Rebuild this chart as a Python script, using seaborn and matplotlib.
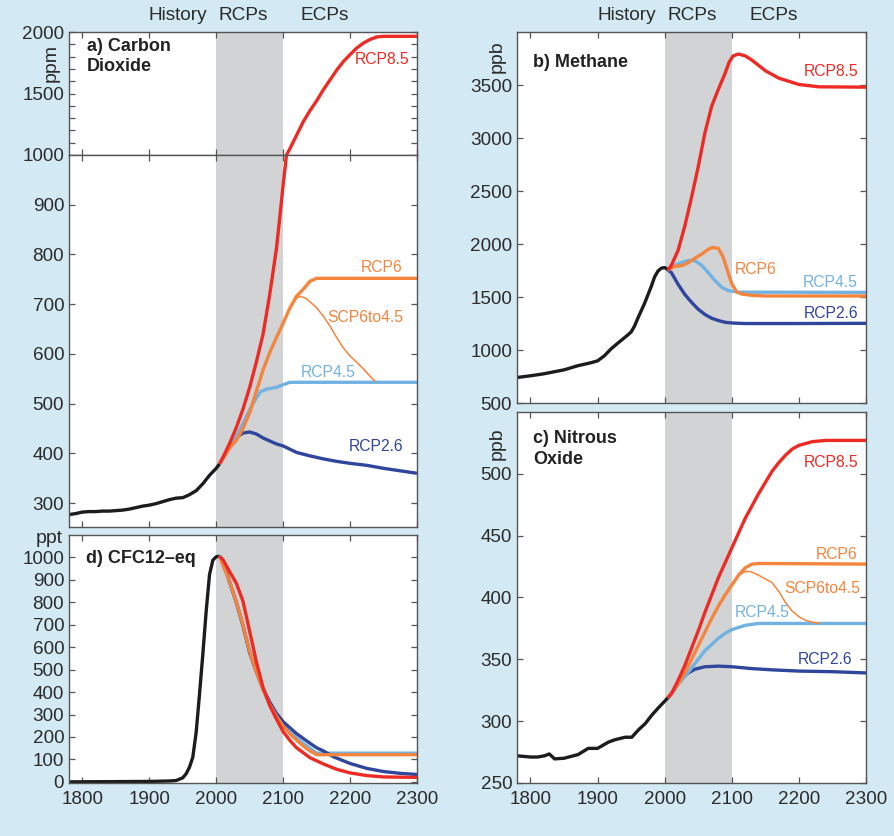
import numpy as np
import pandas as pd
import matplotlib
matplotlib.use("Agg")
import matplotlib.pyplot as plt
import seaborn as sns
from matplotlib.ticker import MultipleLocator

# ---------------- data ----------------
era_labels = ["History", "RCPs", "ECPs"]
era_years = [1943, 2041, 2162]

# Carbon dioxide, ppm
co2_hist_yr = [1780, 1790, 1800, 1810, 1820, 1830, 1840, 1850, 1860, 1870, 1880, 1890,
               1900, 1910, 1920, 1930, 1940, 1950, 1960, 1970, 1980, 1990, 2000, 2005]
co2_hist = [277, 279, 282, 283, 283, 284, 284, 285, 286, 288, 291, 294,
            296, 299, 303, 307, 310, 311, 317, 325, 339, 356, 370, 379]
co2_rcp85_yr = [2005, 2010, 2020, 2030, 2040, 2050, 2060, 2070, 2080, 2090, 2095, 2100, 2105,
                2110, 2120, 2130, 2140, 2150, 2160, 2170, 2180, 2190, 2200, 2210, 2220,
                2230, 2240, 2250, 2300]
co2_rcp85 = [379, 392, 420, 452, 489, 533, 584, 640, 720, 812, 875, 940, 1000,
             1050, 1160, 1270, 1360, 1440, 1530, 1610, 1690, 1760, 1816, 1870, 1910,
             1940, 1960, 1965, 1965]
co2_rcp6_yr = [2005, 2020, 2030, 2040, 2050, 2060, 2070, 2080, 2090, 2100, 2110, 2120,
               2130, 2140, 2150, 2300]
co2_rcp6 = [379, 411, 426, 450, 482, 525, 568, 603, 633, 662, 692, 716, 730, 746, 752, 752]
co2_scp_yr = [2100, 2110, 2120, 2126, 2135, 2150, 2160, 2170, 2180, 2190, 2200, 2210,
              2220, 2230, 2238]
co2_scp = [662, 692, 712, 716, 711, 693, 676, 656, 633, 612, 596, 583, 570, 555, 544]
co2_rcp45_yr = [2005, 2020, 2030, 2040, 2050, 2060, 2066, 2075, 2090, 2100, 2110, 2300]
co2_rcp45 = [379, 412, 434, 460, 488, 512, 524, 529, 533, 538, 543, 543]
co2_rcp26_yr = [2005, 2020, 2030, 2040, 2050, 2060, 2070, 2080, 2090, 2100, 2120, 2140,
                2160, 2180, 2200, 2225, 2250, 2275, 2300]
co2_rcp26 = [379, 412, 432, 441, 443, 439, 431, 425, 419, 415, 402, 395, 389, 384, 380,
             376, 370, 365, 360]

# CFC12-eq, ppt
cfc_hist_yr = [1780, 1900, 1930, 1940, 1950, 1955, 1960, 1965, 1970, 1975, 1980, 1985,
               1990, 1995, 2000, 2005]
cfc_hist = [0, 2, 4, 6, 18, 36, 65, 110, 220, 390, 569, 761, 924, 988, 1003, 1005]
cfc_rcp85_yr = [2005, 2010, 2020, 2030, 2040, 2050, 2060, 2070, 2080, 2090, 2100, 2110,
                2120, 2140, 2160, 2180, 2200, 2225, 2250, 2300]
cfc_rcp85 = [1005, 990, 937, 885, 805, 670, 535, 420, 340, 280, 224, 185, 152, 108, 80,
             56, 40, 28, 22, 20]
cfc_rcp26_yr = [2005, 2010, 2020, 2030, 2040, 2050, 2060, 2070, 2080, 2090, 2100, 2120,
                2140, 2150, 2160, 2175, 2200, 2225, 2250, 2275, 2300]
cfc_rcp26 = [1005, 985, 890, 800, 695, 575, 490, 415, 355, 305, 268, 215, 172, 152, 138,
             112, 82, 60, 46, 38, 33]
cfc_rcp6_yr = [2005, 2020, 2030, 2040, 2050, 2060, 2070, 2080, 2090, 2100, 2110, 2120,
               2130, 2140, 2150, 2300]
cfc_rcp6 = [1005, 892, 802, 700, 580, 490, 410, 345, 292, 248, 214, 186, 160, 138, 121, 121]
cfc_rcp45_yr = [2005, 2020, 2030, 2040, 2050, 2060, 2070, 2080, 2090, 2100, 2110, 2120,
                2130, 2140, 2150, 2300]
cfc_rcp45 = [1005, 893, 803, 701, 582, 492, 412, 348, 296, 255, 222, 196, 172, 150, 128, 128]

# Methane, ppb
ch4_hist_yr = [1780, 1800, 1820, 1850, 1870, 1890, 1900, 1910, 1920, 1930, 1945, 1950,
               1955, 1960, 1965, 1970, 1975, 1980, 1985, 1990, 1995, 2000, 2005]
ch4_hist = [741, 757, 776, 813, 851, 880, 898, 945, 1010, 1064, 1142, 1170, 1225, 1300,
            1370, 1440, 1520, 1600, 1690, 1745, 1772, 1778, 1758]
ch4_rcp85_yr = [2005, 2010, 2020, 2030, 2040, 2050, 2060, 2070, 2080, 2090, 2096, 2102,
                2110, 2120, 2130, 2150, 2170, 2200, 2230, 2300]
ch4_rcp85 = [1754, 1800, 1940, 2170, 2440, 2730, 3050, 3300, 3460, 3610, 3715, 3775,
             3792, 3775, 3735, 3635, 3565, 3505, 3483, 3480]
ch4_rcp6_yr = [2005, 2015, 2025, 2035, 2045, 2055, 2065, 2072, 2080, 2087, 2093, 2100,
               2107, 2115, 2130, 2150, 2300]
ch4_rcp6 = [1754, 1790, 1795, 1825, 1865, 1905, 1950, 1968, 1958, 1880, 1760, 1625,
            1550, 1528, 1516, 1510, 1510]
ch4_rcp45_yr = [2005, 2015, 2025, 2035, 2045, 2055, 2065, 2075, 2085, 2095, 2110, 2300]
ch4_rcp45 = [1754, 1800, 1825, 1845, 1842, 1800, 1730, 1655, 1592, 1560, 1546, 1544]
ch4_rcp26_yr = [2005, 2010, 2020, 2030, 2040, 2050, 2060, 2070, 2080, 2090, 2100, 2120,
                2200, 2300]
ch4_rcp26 = [1754, 1730, 1620, 1525, 1450, 1385, 1335, 1300, 1278, 1262, 1255, 1250,
             1250, 1252]

# Nitrous oxide, ppb
n2o_hist_yr = [1780, 1800, 1811, 1821, 1828, 1836, 1850, 1871, 1886, 1900, 1916, 1926,
               1941, 1951, 1961, 1971, 1981, 1991, 2005]
n2o_hist = [272, 271, 271, 272, 273.5, 269.5, 270, 273, 278, 278, 283, 285, 287, 287, 293,
            298, 305, 311, 319]
n2o_rcp85_yr = [2005, 2010, 2020, 2030, 2040, 2050, 2060, 2070, 2080, 2090, 2100, 2110,
                2120, 2130, 2140, 2150, 2160, 2170, 2180, 2190, 2200, 2220, 2240, 2300]
n2o_rcp85 = [319, 322, 333, 345, 359, 373, 388, 402, 416, 428, 440, 452, 464, 474, 484,
             493, 502, 509, 515, 520, 523, 526, 527, 527]
n2o_rcp6_yr = [2005, 2020, 2030, 2040, 2050, 2060, 2070, 2080, 2090, 2100, 2110, 2120,
               2130, 2140, 2300]
n2o_rcp6 = [319, 330, 339, 350, 361, 372, 383, 393, 402, 410, 418, 424, 427, 427.5, 427]
n2o_scp_yr = [2100, 2110, 2120, 2128, 2140, 2150, 2160, 2170, 2180, 2190, 2200, 2210,
              2220, 2232]
n2o_scp = [410, 418, 421, 421, 418, 415, 412, 405, 396, 389, 384.5, 381.5, 380, 379]
n2o_rcp45_yr = [2005, 2020, 2030, 2040, 2050, 2060, 2070, 2080, 2090, 2100, 2120, 2140, 2300]
n2o_rcp45 = [319, 330, 336, 343, 350, 357, 362, 367, 371, 374, 377.5, 379, 379]
n2o_rcp26_yr = [2005, 2015, 2025, 2035, 2045, 2060, 2080, 2100, 2130, 2160, 2200, 2250, 2300]
n2o_rcp26 = [319, 326, 334, 339, 342, 344, 344.5, 344, 342.5, 341.5, 340.5, 340, 339]

# ---------------- style ----------------
BG = "#d3e9f3"
C_HIST = "#1c1c1c"
C_85 = "#ee2a24"
C_6 = "#f5843d"
C_45 = "#72b2e2"
C_26 = "#2f469c"
BAND = "#d1d3d5"
SPINE = "#555555"
TXT = "#2b2b2b"
LW = 2.4

sns.set_style("ticks", {"xtick.direction": "in", "ytick.direction": "in"})
plt.rcParams["font.family"] = ["Liberation Sans", "DejaVu Sans"]

fig = plt.figure(figsize=(8.95, 8.36), dpi=100, facecolor=BG)

ax_co2_top = fig.add_axes([0.0771, 0.8146, 0.3888, 0.1471])
ax_co2 = fig.add_axes([0.0771, 0.3696, 0.3888, 0.4450])
ax_cfc = fig.add_axes([0.0771, 0.0634, 0.3888, 0.2967])
ax_ch4 = fig.add_axes([0.5777, 0.5179, 0.3899, 0.4438])
ax_n2o = fig.add_axes([0.5777, 0.0634, 0.3899, 0.4438])


def draw(ax, series):
    for yrs, vals, col, lw in series:
        sns.lineplot(x=yrs, y=vals, color=col, linewidth=lw, ax=ax,
                     sort=False, estimator=None, solid_capstyle="butt")


def frame(ax, ylim, yticks, xlabels=False):
    ax.set_facecolor("white")
    ax.axvspan(2000, 2100, color=BAND, lw=0, zorder=0)
    ax.set_xlim(1780, 2300)
    ax.set_ylim(*ylim)
    ax.set_xticks([1800, 1900, 2000, 2100, 2200, 2300])
    ax.set_yticks(yticks)
    if not xlabels:
        ax.set_xticklabels([])
    ax.tick_params(which="both", direction="in", top=True, right=True, length=4,
                   width=0.9, color=SPINE, labelsize=13.6, labelcolor=TXT)
    ax.tick_params(axis="x", pad=6)
    ax.tick_params(axis="y", pad=3.5)
    for s in ax.spines.values():
        s.set_color(SPINE)
        s.set_linewidth(1.0)
    ax.set_xlabel("")
    ax.set_ylabel("")


co2_series = [
    (co2_hist_yr, co2_hist, C_HIST, LW),
    (co2_rcp26_yr, co2_rcp26, C_26, LW),
    (co2_rcp45_yr, co2_rcp45, C_45, LW),
    (co2_scp_yr, co2_scp, C_6, 1.1),
    (co2_rcp6_yr, co2_rcp6, C_6, LW),
    (co2_rcp85_yr, co2_rcp85, C_85, LW),
]
draw(ax_co2_top, co2_series)
draw(ax_co2, co2_series)
frame(ax_co2_top, (1000, 2000), [1000, 1500, 2000])
ax_co2_top.yaxis.set_minor_locator(MultipleLocator(100))
ax_co2_top.tick_params(which="minor", left=True, right=True)
frame(ax_co2, (252, 1000), [300, 400, 500, 600, 700, 800, 900])

draw(ax_cfc, [
    (cfc_hist_yr, cfc_hist, C_HIST, LW),
    (cfc_rcp45_yr, cfc_rcp45, C_45, LW),
    (cfc_rcp26_yr, cfc_rcp26, C_26, LW),
    (cfc_rcp6_yr, cfc_rcp6, C_6, LW),
    (cfc_rcp85_yr, cfc_rcp85, C_85, LW),
])
frame(ax_cfc, (-5, 1100), list(range(0, 1001, 100)), xlabels=True)

draw(ax_ch4, [
    (ch4_hist_yr, ch4_hist, C_HIST, LW),
    (ch4_rcp26_yr, ch4_rcp26, C_26, LW),
    (ch4_rcp45_yr, ch4_rcp45, C_45, LW),
    (ch4_rcp6_yr, ch4_rcp6, C_6, LW),
    (ch4_rcp85_yr, ch4_rcp85, C_85, LW),
])
frame(ax_ch4, (500, 4000), [500, 1000, 1500, 2000, 2500, 3000, 3500])

draw(ax_n2o, [
    (n2o_hist_yr, n2o_hist, C_HIST, LW),
    (n2o_rcp26_yr, n2o_rcp26, C_26, LW),
    (n2o_rcp45_yr, n2o_rcp45, C_45, LW),
    (n2o_scp_yr, n2o_scp, C_6, 1.1),
    (n2o_rcp6_yr, n2o_rcp6, C_6, LW),
    (n2o_rcp85_yr, n2o_rcp85, C_85, LW),
])
frame(ax_n2o, (250, 550), [250, 300, 350, 400, 450, 500], xlabels=True)

# scenario labels
lab = dict(fontsize=11.3, va="center")
ax_co2_top.text(2288, 1780, "RCP8.5", color=C_85, ha="right", **lab)
ax_co2.text(2279, 774, "RCP6", color=C_6, ha="right", **lab)
ax_co2.text(2280, 674, "SCP6to4.5", color=C_6, ha="right", **lab)
ax_co2.text(2126, 562, "RCP4.5", color=C_45, ha="left", **lab)
ax_co2.text(2279, 414, "RCP2.6", color=C_26, ha="right", **lab)

ax_ch4.text(2288, 3626, "RCP8.5", color=C_85, ha="right", **lab)
ax_ch4.text(2104, 1761, "RCP6", color=C_6, ha="left", **lab)
ax_ch4.text(2288, 1635, "RCP4.5", color=C_45, ha="right", **lab)
ax_ch4.text(2288, 1346, "RCP2.6", color=C_26, ha="right", **lab)

ax_n2o.text(2288, 509, "RCP8.5", color=C_85, ha="right", **lab)
ax_n2o.text(2288, 435, "RCP6", color=C_6, ha="right", **lab)
ax_n2o.text(2291, 407.5, "SCP6to4.5", color=C_6, ha="right", **lab)
ax_n2o.text(2105, 388, "RCP4.5", color=C_45, ha="left", **lab)
ax_n2o.text(2280, 350, "RCP2.6", color=C_26, ha="right", **lab)

# panel titles
ttl = dict(fontsize=13, fontweight="bold", color="#222222", ha="left", va="top",
           linespacing=1.3)
ax_co2_top.text(0.052, 0.955, "a) Carbon\nDioxide", transform=ax_co2_top.transAxes, **ttl)
ax_ch4.text(0.046, 0.94, "b) Methane", transform=ax_ch4.transAxes, **ttl)
ax_n2o.text(0.046, 0.952, "c) Nitrous\nOxide", transform=ax_n2o.transAxes, **ttl)
ax_cfc.text(0.05, 0.94, "d) CFC12\u2013eq", transform=ax_cfc.transAxes, **ttl)

# units
unit = dict(fontsize=14, color=TXT, ha="center", va="center")
ax_co2_top.text(-0.052, 0.75, "ppm", rotation=90, transform=ax_co2_top.transAxes, **unit)
ax_ch4.text(-0.057, 0.933, "ppb", rotation=90, transform=ax_ch4.transAxes, **unit)
ax_n2o.text(-0.057, 0.914, "ppb", rotation=90, transform=ax_n2o.transAxes, **unit)
ax_cfc.text(-0.057, 0.985, "ppt", transform=ax_cfc.transAxes, **unit)

# era headers
for ax in (ax_co2_top, ax_ch4):
    for name, yr in zip(era_labels, era_years):
        ax.annotate(name, xy=(yr, 1), xycoords=("data", "axes fraction"),
                    xytext=(0, 12), textcoords="offset points",
                    ha="center", va="center", fontsize=13.7, color=TXT,
                    annotation_clip=False)

fig.savefig("out.png", dpi=100, facecolor=BG)
